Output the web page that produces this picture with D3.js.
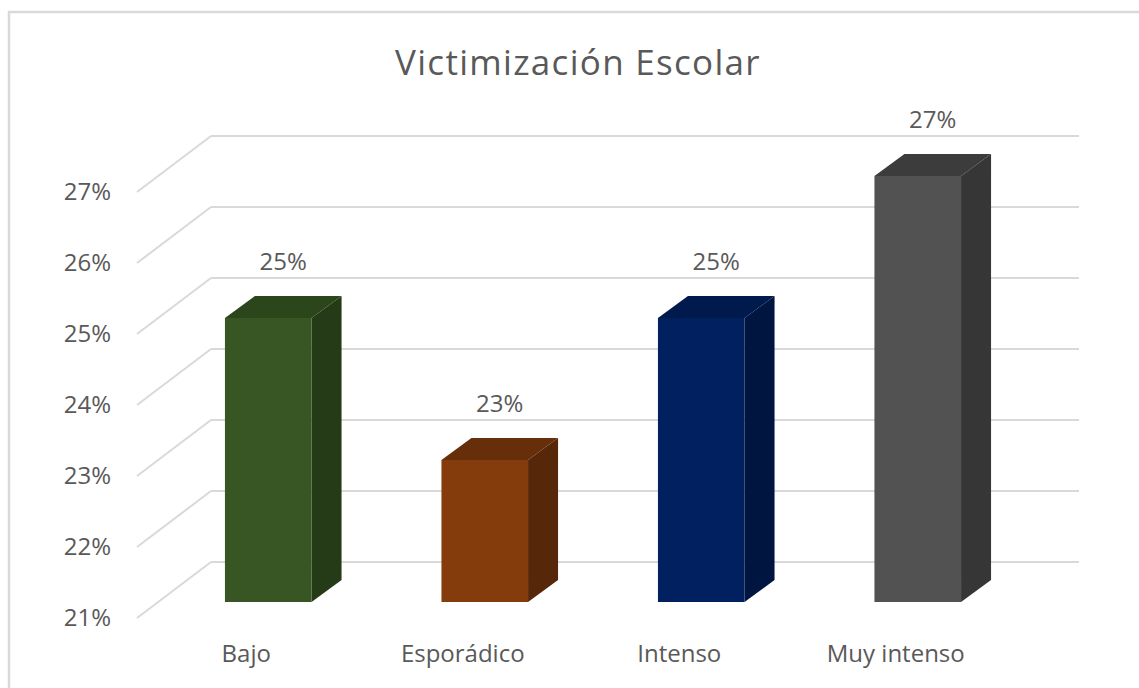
<!DOCTYPE html>
<html>
<head>
<meta charset="utf-8">
<script src="https://cdn.jsdelivr.net/npm/d3@7"></script>
<style>
  body { margin: 0; background: #fff; }
  svg { display: block; font-family: "Open Sans", "Noto Sans", sans-serif; }
</style>
</head>
<body>
<svg id="chart" width="1139" height="688"></svg>
<script>
// Data
const categories = ['Bajo', 'Esporádico', 'Intenso', 'Muy intenso'];
const values = [0.25, 0.23, 0.25, 0.27];
const tickValues = [0.21, 0.22, 0.23, 0.24, 0.25, 0.26, 0.27];
const frontColors = ['#375623', '#843c0c', '#002060', '#525252'];
const sideColors = ['#253a17', '#562708', '#001540', '#363636'];
const topColors = ['#2c461b', '#662f09', '#001a4e', '#3c3c3c'];

const svg = d3.select('#chart');
const textColor = '#595959';
const gridColor = '#d9d9d9';

// 3D offsets (fake perspective)
const wallBack = {dx: 0, dy: -40};   // back wall relative to bar front plane
const wallLeft = {x0: 211, x1: 137};  // left wall back / front x
const wallRight = 1079;
const barDepth = {dx: 30, dy: -22};

// Scales
const x = d3.scaleBand()
    .domain(categories)
    .range([160, 1026])
    .paddingInner(0.6)
    .paddingOuter(0.3);

const y = d3.scaleLinear()
    .domain([0.21, 0.27])
    .range([602, 176]);

const fmt = d3.format('.0%');

// Outer frame
svg.append('path')
    .attr('d', 'M9,688 V12 H1139')
    .attr('fill', 'none')
    .attr('stroke', gridColor)
    .attr('stroke-width', 2.5);

// Title
svg.append('text')
    .attr('x', 578)
    .attr('y', 75)
    .attr('text-anchor', 'middle')
    .attr('font-size', '35px')
    .attr('letter-spacing', '1.3px')
    .attr('fill', textColor)
    .text('Victimización Escolar');

// Back wall gridlines
const grid = svg.append('g');
grid.selectAll('line.back')
    .data(tickValues)
    .enter()
    .append('line')
    .attr('class', 'back')
    .attr('x1', wallLeft.x0)
    .attr('x2', wallRight)
    .attr('y1', d => y(d) + wallBack.dy)
    .attr('y2', d => y(d) + wallBack.dy)
    .attr('stroke', gridColor)
    .attr('stroke-width', 2);

// Side wall diagonals
grid.selectAll('line.side')
    .data(tickValues)
    .enter()
    .append('line')
    .attr('class', 'side')
    .attr('x1', wallLeft.x0)
    .attr('x2', wallLeft.x1)
    .attr('y1', d => y(d) + wallBack.dy)
    .attr('y2', d => y(d) + wallBack.dy + 56)
    .attr('stroke', gridColor)
    .attr('stroke-width', 2);

// Y tick labels
svg.append('g')
    .selectAll('text')
    .data(tickValues)
    .enter()
    .append('text')
    .attr('x', 111)
    .attr('y', d => y(d) + wallBack.dy + 56)
    .attr('dy', '0.35em')
    .attr('text-anchor', 'end')
    .attr('font-size', '24px')
    .attr('fill', textColor)
    .text(d => fmt(d));

// Bars
const bars = svg.append('g')
    .selectAll('g.bar')
    .data(categories.map((c, i) => ({cat: c, value: values[i], i})))
    .enter()
    .append('g')
    .attr('class', 'bar');

const base = y(0.21);

// side face
bars.append('path')
    .attr('d', d => {
        const x1 = x(d.cat) + x.bandwidth();
        const yt = y(d.value);
        return `M${x1},${base} L${x1 + barDepth.dx},${base + barDepth.dy} L${x1 + barDepth.dx},${yt + barDepth.dy} L${x1},${yt} Z`;
    })
    .attr('fill', d => sideColors[d.i]);

// top face
bars.append('path')
    .attr('d', d => {
        const x0 = x(d.cat);
        const x1 = x0 + x.bandwidth();
        const yt = y(d.value);
        return `M${x0},${yt} L${x0 + barDepth.dx},${yt + barDepth.dy} L${x1 + barDepth.dx},${yt + barDepth.dy} L${x1},${yt} Z`;
    })
    .attr('fill', d => topColors[d.i]);

// front face
bars.append('rect')
    .attr('x', d => x(d.cat))
    .attr('y', d => y(d.value))
    .attr('width', x.bandwidth())
    .attr('height', d => base - y(d.value))
    .attr('fill', d => frontColors[d.i]);

// Data labels
bars.append('text')
    .attr('x', d => x(d.cat) + x.bandwidth() / 2 + barDepth.dx / 2)
    .attr('y', d => y(d.value) + barDepth.dy - 26)
    .attr('text-anchor', 'middle')
    .attr('font-size', '24px')
    .attr('fill', textColor)
    .text(d => fmt(d.value));

// Category labels
svg.append('g')
    .selectAll('text')
    .data(categories)
    .enter()
    .append('text')
    .attr('x', d => x(d) + x.bandwidth() / 2 - 22)
    .attr('y', 662)
    .attr('text-anchor', 'middle')
    .attr('font-size', '24px')
    .attr('fill', textColor)
    .text(d => d);
</script>
</body>
</html>
